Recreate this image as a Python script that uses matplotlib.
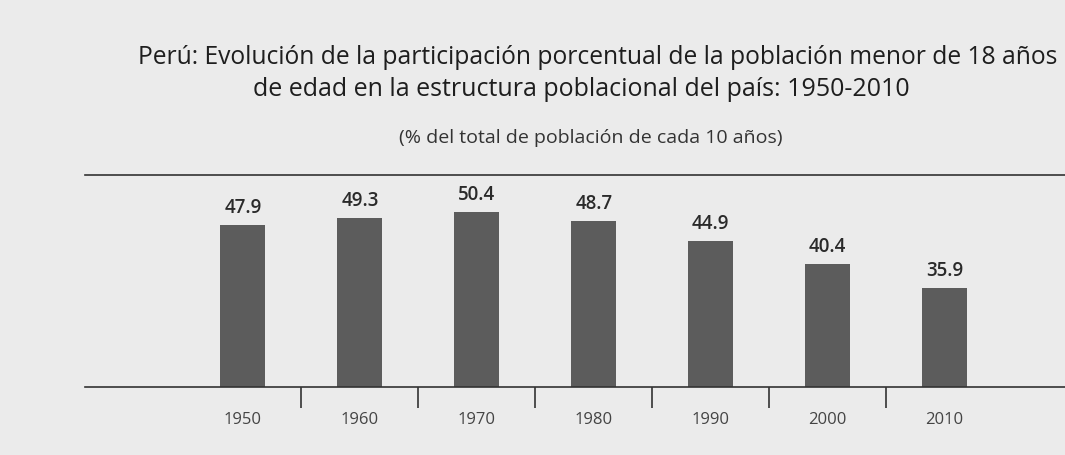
import matplotlib
matplotlib.use("Agg")
import matplotlib.pyplot as plt
import numpy as np

years = ["1950", "1960", "1970", "1980", "1990", "2000", "2010"]
values = [47.9, 49.3, 50.4, 48.7, 44.9, 40.4, 35.9]
value_labels = ["47.9", "49.3", "50.4", "48.7", "44.9", "40.4", "35.9"]

title_1 = "Perú: Evolución de la participación porcentual de la población menor de 18 años"
title_2 = "de edad en la estructura poblacional del país: 1950-2010"
subtitle = "(% del total de población de cada 10 años)"

W, H = 1065, 455
fig = plt.figure(figsize=(W / 100, H / 100), dpi=100)
bg = "#ebebeb"
fig.patch.set_facecolor(bg)

# axes: left 85, right 1065, top 175, bottom 387 (pixels)
ax = fig.add_axes([85 / W, 1 - 387 / H, (1065 - 85) / W, (387 - 175) / H])
ax.set_facecolor(bg)

x = np.arange(len(years))
ax.bar(x, values, width=0.385, color="#5c5c5c", zorder=2)
ax.set_xlim(-1.35, 7.03)
ax.set_ylim(17.05, 57.4)

for xi, v, lab in zip(x, values, value_labels):
    ax.annotate(lab, (xi, v), xytext=(0, 5), textcoords="offset points",
                ha="center", va="bottom", fontsize=13.5, fontweight="semibold",
                color="#2a2a2a", family="Open Sans")

for s in ["left", "right"]:
    ax.spines[s].set_visible(False)
ax.spines["top"].set_color("#333333")
ax.spines["top"].set_linewidth(1.2)
ax.spines["bottom"].set_color("#333333")
ax.spines["bottom"].set_linewidth(1.2)

ax.set_yticks([])
ax.set_xticks(x)
ax.set_xticklabels(years, fontsize=12, color="#444444", family="Open Sans")
ax.tick_params(axis="x", length=0, pad=18)
# separator ticks between categories
ax.set_xticks(x[:-1] + 0.5, minor=True)
ax.tick_params(axis="x", which="minor", length=15, width=1.2, color="#333333",
               direction="out")

fig.text(598 / W, 1 - 58 / H, title_1, ha="center", va="center", fontsize=17.7,
         color="#1e1e1e", family="Open Sans")
fig.text(581 / W, 1 - 90 / H, title_2, ha="center", va="center", fontsize=18,
         color="#1e1e1e", family="Open Sans")
fig.text(591 / W, 1 - 138 / H, subtitle, ha="center", va="center", fontsize=14,
         color="#333333", family="Open Sans")

fig.savefig("out.png", dpi=100, facecolor=bg)
